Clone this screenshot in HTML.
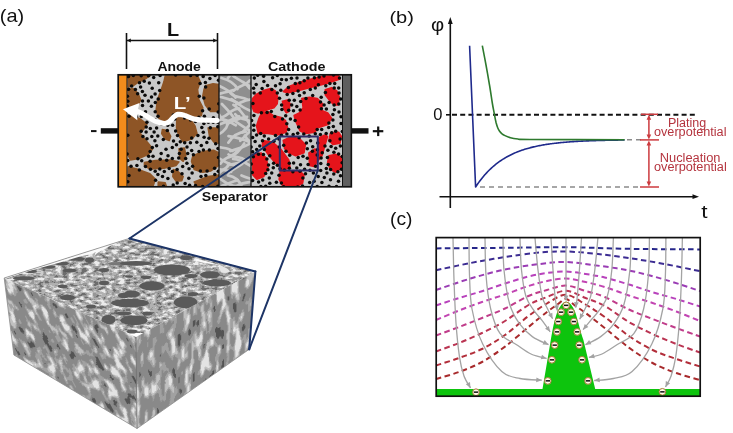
<!DOCTYPE html>
<html><head><meta charset="utf-8"><style>
html,body{margin:0;padding:0;background:#fff;width:733px;height:433px;overflow:hidden;font-family:"Liberation Sans",sans-serif;}
svg{display:block;will-change:transform;filter:blur(0.3px)}
</style></head><body>
<svg width="733" height="433" viewBox="0 0 733 433">
<rect width="733" height="433" fill="#fff"/>
<defs><filter id="texTop" x="0" y="0" width="1" height="1" color-interpolation-filters="sRGB"><feTurbulence type="fractalNoise" baseFrequency="0.16 0.32" numOctaves="2" seed="4"/><feColorMatrix type="matrix" values="1 0 0 0 0  1 0 0 0 0  1 0 0 0 0  0 0 0 0 1"/><feComponentTransfer><feFuncR type="discrete" tableValues="0.431 0.431 0.431 0.431 0.431 0.431 0.431 0.431 0.431 0.431 0.431 0.431 0.431 0.431 0.431 0.431 0.431 0.431 0.431 0.431 0.431 0.431 0.431 0.431 0.431 0.431 0.431 0.431 0.431 0.431 0.431 0.431 0.431 0.596 0.596 0.596 0.596 0.596 0.596 0.596 0.596 0.596 0.596 0.596 0.596 0.698 0.698 0.698 0.698 0.698 0.698 0.698 0.698 0.698 0.804 0.804 0.804 0.804 0.804 0.804 0.804 0.804 0.922 0.922 0.922 0.922 0.922 0.922 0.922 0.922 0.922 0.922 0.922 0.922 0.922 0.922 0.922 0.922 0.922 0.922 0.922 0.922 0.922 0.922 0.922 0.922 0.922 0.922 0.922 0.922 0.922 0.922 0.922 0.922 0.922 0.922"/><feFuncG type="discrete" tableValues="0.431 0.431 0.431 0.431 0.431 0.431 0.431 0.431 0.431 0.431 0.431 0.431 0.431 0.431 0.431 0.431 0.431 0.431 0.431 0.431 0.431 0.431 0.431 0.431 0.431 0.431 0.431 0.431 0.431 0.431 0.431 0.431 0.431 0.596 0.596 0.596 0.596 0.596 0.596 0.596 0.596 0.596 0.596 0.596 0.596 0.698 0.698 0.698 0.698 0.698 0.698 0.698 0.698 0.698 0.804 0.804 0.804 0.804 0.804 0.804 0.804 0.804 0.922 0.922 0.922 0.922 0.922 0.922 0.922 0.922 0.922 0.922 0.922 0.922 0.922 0.922 0.922 0.922 0.922 0.922 0.922 0.922 0.922 0.922 0.922 0.922 0.922 0.922 0.922 0.922 0.922 0.922 0.922 0.922 0.922 0.922"/><feFuncB type="discrete" tableValues="0.431 0.431 0.431 0.431 0.431 0.431 0.431 0.431 0.431 0.431 0.431 0.431 0.431 0.431 0.431 0.431 0.431 0.431 0.431 0.431 0.431 0.431 0.431 0.431 0.431 0.431 0.431 0.431 0.431 0.431 0.431 0.431 0.431 0.596 0.596 0.596 0.596 0.596 0.596 0.596 0.596 0.596 0.596 0.596 0.596 0.698 0.698 0.698 0.698 0.698 0.698 0.698 0.698 0.698 0.804 0.804 0.804 0.804 0.804 0.804 0.804 0.804 0.922 0.922 0.922 0.922 0.922 0.922 0.922 0.922 0.922 0.922 0.922 0.922 0.922 0.922 0.922 0.922 0.922 0.922 0.922 0.922 0.922 0.922 0.922 0.922 0.922 0.922 0.922 0.922 0.922 0.922 0.922 0.922 0.922 0.922"/></feComponentTransfer><feGaussianBlur stdDeviation="0.45"/></filter><filter id="texL" x="0" y="0" width="1" height="1" color-interpolation-filters="sRGB"><feTurbulence type="fractalNoise" baseFrequency="0.17 0.065" numOctaves="2" seed="9"/><feColorMatrix type="matrix" values="1 0 0 0 0  1 0 0 0 0  1 0 0 0 0  0 0 0 0 1"/><feComponentTransfer><feFuncR type="discrete" tableValues="0.333 0.333 0.333 0.333 0.333 0.333 0.333 0.333 0.333 0.333 0.333 0.333 0.333 0.333 0.333 0.333 0.333 0.333 0.333 0.333 0.333 0.333 0.333 0.333 0.333 0.333 0.333 0.333 0.333 0.541 0.541 0.541 0.541 0.541 0.541 0.541 0.541 0.541 0.541 0.541 0.541 0.541 0.541 0.541 0.541 0.541 0.541 0.541 0.541 0.635 0.635 0.635 0.635 0.635 0.635 0.635 0.753 0.753 0.753 0.753 0.753 0.753 0.753 0.894 0.894 0.894 0.894 0.894 0.894 0.894 0.894 0.894 0.894 0.894 0.894 0.894 0.894 0.894 0.894 0.894 0.894 0.894 0.894 0.894 0.894 0.894 0.894 0.894 0.894 0.894 0.894 0.894 0.894 0.894 0.894 0.894"/><feFuncG type="discrete" tableValues="0.333 0.333 0.333 0.333 0.333 0.333 0.333 0.333 0.333 0.333 0.333 0.333 0.333 0.333 0.333 0.333 0.333 0.333 0.333 0.333 0.333 0.333 0.333 0.333 0.333 0.333 0.333 0.333 0.333 0.541 0.541 0.541 0.541 0.541 0.541 0.541 0.541 0.541 0.541 0.541 0.541 0.541 0.541 0.541 0.541 0.541 0.541 0.541 0.541 0.635 0.635 0.635 0.635 0.635 0.635 0.635 0.753 0.753 0.753 0.753 0.753 0.753 0.753 0.894 0.894 0.894 0.894 0.894 0.894 0.894 0.894 0.894 0.894 0.894 0.894 0.894 0.894 0.894 0.894 0.894 0.894 0.894 0.894 0.894 0.894 0.894 0.894 0.894 0.894 0.894 0.894 0.894 0.894 0.894 0.894 0.894"/><feFuncB type="discrete" tableValues="0.333 0.333 0.333 0.333 0.333 0.333 0.333 0.333 0.333 0.333 0.333 0.333 0.333 0.333 0.333 0.333 0.333 0.333 0.333 0.333 0.333 0.333 0.333 0.333 0.333 0.333 0.333 0.333 0.333 0.541 0.541 0.541 0.541 0.541 0.541 0.541 0.541 0.541 0.541 0.541 0.541 0.541 0.541 0.541 0.541 0.541 0.541 0.541 0.541 0.635 0.635 0.635 0.635 0.635 0.635 0.635 0.753 0.753 0.753 0.753 0.753 0.753 0.753 0.894 0.894 0.894 0.894 0.894 0.894 0.894 0.894 0.894 0.894 0.894 0.894 0.894 0.894 0.894 0.894 0.894 0.894 0.894 0.894 0.894 0.894 0.894 0.894 0.894 0.894 0.894 0.894 0.894 0.894 0.894 0.894 0.894"/></feComponentTransfer><feGaussianBlur stdDeviation="0.45"/></filter><filter id="texR" x="0" y="0" width="1" height="1" color-interpolation-filters="sRGB"><feTurbulence type="fractalNoise" baseFrequency="0.14 0.05" numOctaves="2" seed="13"/><feColorMatrix type="matrix" values="1 0 0 0 0  1 0 0 0 0  1 0 0 0 0  0 0 0 0 1"/><feComponentTransfer><feFuncR type="discrete" tableValues="0.333 0.333 0.333 0.333 0.333 0.333 0.333 0.333 0.333 0.333 0.333 0.333 0.333 0.333 0.333 0.333 0.333 0.333 0.333 0.333 0.333 0.333 0.333 0.333 0.333 0.333 0.333 0.333 0.333 0.541 0.541 0.541 0.541 0.541 0.541 0.541 0.541 0.541 0.541 0.541 0.541 0.541 0.541 0.541 0.541 0.541 0.541 0.541 0.541 0.635 0.635 0.635 0.635 0.635 0.635 0.635 0.753 0.753 0.753 0.753 0.753 0.753 0.753 0.894 0.894 0.894 0.894 0.894 0.894 0.894 0.894 0.894 0.894 0.894 0.894 0.894 0.894 0.894 0.894 0.894 0.894 0.894 0.894 0.894 0.894 0.894 0.894 0.894 0.894 0.894 0.894 0.894 0.894 0.894 0.894 0.894"/><feFuncG type="discrete" tableValues="0.333 0.333 0.333 0.333 0.333 0.333 0.333 0.333 0.333 0.333 0.333 0.333 0.333 0.333 0.333 0.333 0.333 0.333 0.333 0.333 0.333 0.333 0.333 0.333 0.333 0.333 0.333 0.333 0.333 0.541 0.541 0.541 0.541 0.541 0.541 0.541 0.541 0.541 0.541 0.541 0.541 0.541 0.541 0.541 0.541 0.541 0.541 0.541 0.541 0.635 0.635 0.635 0.635 0.635 0.635 0.635 0.753 0.753 0.753 0.753 0.753 0.753 0.753 0.894 0.894 0.894 0.894 0.894 0.894 0.894 0.894 0.894 0.894 0.894 0.894 0.894 0.894 0.894 0.894 0.894 0.894 0.894 0.894 0.894 0.894 0.894 0.894 0.894 0.894 0.894 0.894 0.894 0.894 0.894 0.894 0.894"/><feFuncB type="discrete" tableValues="0.333 0.333 0.333 0.333 0.333 0.333 0.333 0.333 0.333 0.333 0.333 0.333 0.333 0.333 0.333 0.333 0.333 0.333 0.333 0.333 0.333 0.333 0.333 0.333 0.333 0.333 0.333 0.333 0.333 0.541 0.541 0.541 0.541 0.541 0.541 0.541 0.541 0.541 0.541 0.541 0.541 0.541 0.541 0.541 0.541 0.541 0.541 0.541 0.541 0.635 0.635 0.635 0.635 0.635 0.635 0.635 0.753 0.753 0.753 0.753 0.753 0.753 0.753 0.894 0.894 0.894 0.894 0.894 0.894 0.894 0.894 0.894 0.894 0.894 0.894 0.894 0.894 0.894 0.894 0.894 0.894 0.894 0.894 0.894 0.894 0.894 0.894 0.894 0.894 0.894 0.894 0.894 0.894 0.894 0.894 0.894"/></feComponentTransfer><feGaussianBlur stdDeviation="0.45"/></filter><clipPath id="cTop"><polygon points="129.0,238.5 4.2,278.0 136.0,337.0 255.4,271.5"/></clipPath><clipPath id="cL"><polygon points="4.2,278.0 136.0,337.0 137.0,428.5 13.9,355.0"/></clipPath><clipPath id="cR"><polygon points="136.0,337.0 255.4,271.5 249.2,349.3 137.0,428.5"/></clipPath></defs>
<g clip-path="url(#cTop)"><rect x="0" y="236" width="258" height="97" filter="url(#texTop)"/></g>
<g clip-path="url(#cL)"><g transform="translate(70 352) rotate(-28)"><rect x="-110" y="-110" width="220" height="220" filter="url(#texL)"/></g></g>
<g clip-path="url(#cR)"><g transform="translate(134 268) skewY(-27)"><rect x="0" y="60" width="124" height="165" filter="url(#texR)"/></g></g>
<g fill="#777" clip-path="url(#cTop)"><ellipse cx="119" cy="263.8" rx="11" ry="1.8"/></g>
<g fill="#5a5a5a" clip-path="url(#cTop)"><ellipse cx="23.7" cy="278.3" rx="11" ry="2.1"/><ellipse cx="30.6" cy="271.3" rx="6.3" ry="1.8"/><ellipse cx="46.8" cy="266.8" rx="8.7" ry="1.9"/><ellipse cx="62" cy="263.5" rx="7" ry="2"/><ellipse cx="62.5" cy="286.2" rx="5" ry="1.8"/><ellipse cx="75" cy="258.7" rx="10" ry="2.1"/><ellipse cx="89.5" cy="260" rx="4.5" ry="2.8"/><ellipse cx="69.7" cy="270.5" rx="7" ry="2"/><ellipse cx="124" cy="295.5" rx="6" ry="2.7"/><ellipse cx="136" cy="263.4" rx="16" ry="2.4"/><ellipse cx="172" cy="270" rx="18" ry="5.5"/><ellipse cx="186" cy="257.8" rx="6" ry="2.5"/><ellipse cx="152" cy="286" rx="12.5" ry="4.5"/><ellipse cx="146" cy="277.3" rx="5.5" ry="1.8"/><ellipse cx="210" cy="274.7" rx="10" ry="3.5"/><ellipse cx="217" cy="283" rx="14" ry="3.5"/><ellipse cx="191" cy="276" rx="6.5" ry="2"/><ellipse cx="67.6" cy="297.5" rx="7.6" ry="2.8"/><ellipse cx="91" cy="306.5" rx="5" ry="2"/><ellipse cx="130" cy="303" rx="19" ry="4.2"/><ellipse cx="132" cy="294" rx="8" ry="3.5"/><ellipse cx="108.5" cy="319.7" rx="7" ry="4.8"/><ellipse cx="134" cy="320.4" rx="13.5" ry="4.8"/><ellipse cx="123.8" cy="313.4" rx="8" ry="2"/><ellipse cx="132" cy="331.5" rx="5.5" ry="2"/><ellipse cx="185.6" cy="302.3" rx="11.8" ry="6"/><ellipse cx="147" cy="313.4" rx="4.8" ry="2"/><ellipse cx="193" cy="294" rx="5.5" ry="2"/><ellipse cx="104" cy="270" rx="5" ry="2"/><ellipse cx="104" cy="283" rx="5" ry="2.2"/><ellipse cx="129" cy="276.5" rx="4" ry="1.3"/></g>
<g fill="#fafafa" clip-path="url(#cTop)"><path d="M94 256.5 C97 253 100 251 106 248.5 L108 247 L96 251 Z"/><path d="M220 266.5 C224 266 228 268.5 230 271.5 C227 273 223 273.5 221 272 C219.5 270 219.5 268 220 266.5 Z" fill="#e6e6e6"/><path d="M5 277.6 L129.5 236.8 L129.5 238.6 L118 242.5 L110 246 L104 249 L96 252.3 L89 254.4 L80 256.6 L70 259.6 L60 262.4 L50 265.2 L40 268 L30 270.8 L20 274 L10 277.2 L5 278.8 Z"/><path d="M195 258.2 L222 265.5 C214 265 205 263 196 261 Z"/></g>
<g stroke="#8a8a8a" stroke-width="0.8" fill="none"><polyline points="255.4,271.5 129.0,238.5 4.2,278.0 13.9,355.0 137.0,428.5 249.2,349.3"/><line x1="136" y1="337" x2="137" y2="428.5" stroke="#666"/></g>
<g stroke="#1d3466" stroke-width="2" fill="none" stroke-linecap="round"><line x1="129.5" y1="238.5" x2="255.4" y2="271.5"/><line x1="255.4" y1="271.5" x2="249.2" y2="349.3"/></g>
<text x="-0.24" y="22.20" font-size="18.1" font-family="Liberation Sans, sans-serif" fill="#111" textLength="24.37" lengthAdjust="spacingAndGlyphs">(a)</text>
<text x="389.46" y="22.80" font-size="16" font-family="Liberation Sans, sans-serif" fill="#111" textLength="24.48" lengthAdjust="spacingAndGlyphs">(b)</text>
<text x="390.00" y="224.50" font-size="18.4" font-family="Liberation Sans, sans-serif" fill="#111" textLength="22.49" lengthAdjust="spacingAndGlyphs">(c)</text>
<g stroke="#111" stroke-width="1.6" fill="none"><line x1="126.5" y1="33" x2="126.5" y2="69"/><line x1="217.5" y1="33" x2="217.5" y2="69"/><line x1="127" y1="40.5" x2="217" y2="40.5"/></g>
<path d="M127 40.5 l3.8 -2 v4 z M217 40.5 l-3.8 -2 v4 z" fill="#111"/>
<text x="166.97" y="36.20" font-size="18" font-weight="bold" font-family="Liberation Sans, sans-serif" fill="#111" textLength="12.14" lengthAdjust="spacingAndGlyphs">L</text>
<text x="157.45" y="70.50" font-size="13.5" font-weight="bold" font-family="Liberation Sans, sans-serif" fill="#111" textLength="43.42" lengthAdjust="spacingAndGlyphs">Anode</text>
<text x="268.01" y="70.80" font-size="13.7" font-weight="bold" font-family="Liberation Sans, sans-serif" fill="#111" textLength="57.38" lengthAdjust="spacingAndGlyphs">Cathode</text>
<text x="201.79" y="201.40" font-size="13" font-weight="bold" font-family="Liberation Sans, sans-serif" fill="#111" textLength="65.92" lengthAdjust="spacingAndGlyphs">Separator</text>
<rect x="100.8" y="128.2" width="17.6" height="5.4" fill="#111"/>
<rect x="91" y="130.1" width="5.5" height="2" fill="#111"/>
<rect x="351" y="128.2" width="17.5" height="5.4" fill="#111"/>
<rect x="372.8" y="130.1" width="10.5" height="2.2" fill="#111"/><rect x="377.1" y="126.5" width="2.2" height="9.6" fill="#111"/>
<defs><clipPath id="cAn"><rect x="127" y="75" width="92" height="112"/></clipPath><clipPath id="cSep"><rect x="219" y="75" width="32" height="112"/></clipPath><clipPath id="cCa"><rect x="251" y="75" width="91.5" height="112"/></clipPath></defs>
<g clip-path="url(#cAn)">
<rect x="127" y="75" width="92" height="112" fill="#c8c8c8"/>
<g fill="#8e5526"><polygon points="128.2,75.3 150.5,75.3 146.0,78.5 138.0,82.5 133.0,86.0 128.2,87.0" stroke="#8e5526" stroke-width="1.5" stroke-linejoin="round"/><polygon points="128.2,89.6 132.8,88.3 138.0,93.4 140.6,99.9 138.0,105.1 128.2,106.4" stroke="#8e5526" stroke-width="1.5" stroke-linejoin="round"/><polygon points="165.2,75.9 197.6,75.9 200.2,81.8 197.6,89.6 198.9,99.9 202.8,107.7 201.5,115.5 192.4,116.8 184.6,114.2 176.8,112.9 170.4,118.1 163.9,120.7 158.7,118.1 156.1,110.3 157.4,99.9 161.3,89.6 163.9,81.8" stroke="#8e5526" stroke-width="1.5" stroke-linejoin="round"/><polygon points="205.4,85.7 213.1,83.7 219.0,84.4 219.0,111.6 210.5,111.6 205.4,105.1 202.8,96.0 204.0,89.6" stroke="#8e5526" stroke-width="1.5" stroke-linejoin="round"/><polygon points="176.8,118.1 189.8,118.1 195.0,125.9 197.0,133.5 191.5,139.1 183.2,141.9 179.0,136.3 176.5,128.0" stroke="#8e5526" stroke-width="1.5" stroke-linejoin="round"/><polygon points="128.2,114.8 139.3,118.4 147.0,124.0 143.0,130.0 140.0,133.0 147.2,141.9 152.7,148.8 148.5,154.3 138.8,158.5 130.5,159.9 128.2,155.7" stroke="#8e5526" stroke-width="1.5" stroke-linejoin="round"/><polygon points="162.4,129.4 167.9,130.8 170.7,136.3 169.3,140.5 165.2,139.1 161.7,133.5" stroke="#8e5526" stroke-width="1.5" stroke-linejoin="round"/><polygon points="208.1,128.0 219.0,128.0 219.0,143.2 213.6,141.9 209.5,136.3" stroke="#8e5526" stroke-width="1.5" stroke-linejoin="round"/><polygon points="179.0,148.8 184.5,148.1 185.9,155.7 183.2,161.3 179.7,158.5" stroke="#8e5526" stroke-width="1.5" stroke-linejoin="round"/><polygon points="144.4,162.6 155.5,160.6 170.7,159.9 179.0,161.9 176.2,165.4 163.8,168.2 149.9,168.9 144.4,166.1" stroke="#8e5526" stroke-width="1.5" stroke-linejoin="round"/><polygon points="192.9,155.7 202.6,151.6 213.6,150.2 219.0,152.9 219.0,165.4 210.9,171.0 202.6,172.3 194.2,169.6 191.5,161.3" stroke="#8e5526" stroke-width="1.5" stroke-linejoin="round"/><polygon points="128.2,166.8 138.8,169.6 149.9,173.7 155.5,179.3 152.7,187.0 128.2,187.0" stroke="#8e5526" stroke-width="1.5" stroke-linejoin="round"/><polygon points="173.5,169.6 177.6,171.0 183.2,176.5 181.8,180.7 176.2,181.3 172.8,176.5" stroke="#8e5526" stroke-width="1.5" stroke-linejoin="round"/><polygon points="194.2,182.0 208.1,176.5 219.0,175.1 219.0,187.0 197.0,187.0" stroke="#8e5526" stroke-width="1.5" stroke-linejoin="round"/><polygon points="158.2,182.0 165.2,182.7 166.5,187.0 158.2,187.0" stroke="#8e5526" stroke-width="1.5" stroke-linejoin="round"/></g>
<g fill="#0a0a0a"><circle cx="139.4" cy="169.9" r="1.75"/><circle cx="172.6" cy="125.3" r="1.75"/><circle cx="186.9" cy="163.3" r="1.75"/><circle cx="203.9" cy="123.5" r="1.75"/><circle cx="197.1" cy="75.2" r="1.75"/><circle cx="168.0" cy="155.8" r="1.75"/><circle cx="209.9" cy="78.4" r="1.75"/><circle cx="213.4" cy="117.7" r="1.75"/><circle cx="146.9" cy="122.3" r="1.75"/><circle cx="167.3" cy="130.5" r="1.75"/><circle cx="148.4" cy="100.9" r="1.75"/><circle cx="153.7" cy="77.4" r="1.75"/><circle cx="204.1" cy="137.3" r="1.75"/><circle cx="218.3" cy="171.3" r="1.75"/><circle cx="138.1" cy="112.3" r="1.75"/><circle cx="193.4" cy="154.7" r="1.75"/><circle cx="213.2" cy="122.3" r="1.75"/><circle cx="203.4" cy="150.1" r="1.75"/><circle cx="154.9" cy="140.8" r="1.75"/><circle cx="173.5" cy="141.0" r="1.75"/><circle cx="142.9" cy="136.5" r="1.75"/><circle cx="191.7" cy="150.5" r="1.75"/><circle cx="161.5" cy="124.2" r="1.75"/><circle cx="174.9" cy="119.0" r="1.75"/><circle cx="173.2" cy="185.0" r="1.75"/><circle cx="197.9" cy="135.4" r="1.75"/><circle cx="151.8" cy="136.4" r="1.75"/><circle cx="215.1" cy="75.6" r="1.75"/><circle cx="176.5" cy="144.8" r="1.75"/><circle cx="150.5" cy="169.3" r="1.75"/><circle cx="128.5" cy="76.6" r="1.75"/><circle cx="158.7" cy="82.8" r="1.75"/><circle cx="142.5" cy="105.6" r="1.75"/><circle cx="156.6" cy="128.1" r="1.75"/><circle cx="182.7" cy="166.5" r="1.75"/><circle cx="163.3" cy="139.5" r="1.75"/><circle cx="156.6" cy="145.7" r="1.75"/><circle cx="132.4" cy="108.4" r="1.75"/><circle cx="155.2" cy="171.2" r="1.75"/><circle cx="155.6" cy="180.2" r="1.75"/><circle cx="195.4" cy="121.6" r="1.75"/><circle cx="145.5" cy="111.7" r="1.75"/><circle cx="158.2" cy="98.9" r="1.75"/><circle cx="189.0" cy="168.8" r="1.75"/><circle cx="148.6" cy="156.3" r="1.75"/><circle cx="196.8" cy="142.2" r="1.75"/><circle cx="204.4" cy="116.2" r="1.75"/><circle cx="206.8" cy="142.6" r="1.75"/><circle cx="214.8" cy="174.4" r="1.75"/><circle cx="198.9" cy="117.3" r="1.75"/><circle cx="209.0" cy="138.2" r="1.75"/><circle cx="203.2" cy="76.4" r="1.75"/><circle cx="217.9" cy="122.2" r="1.75"/><circle cx="137.6" cy="93.7" r="1.75"/><circle cx="150.3" cy="128.4" r="1.75"/><circle cx="155.3" cy="102.6" r="1.75"/><circle cx="187.0" cy="147.1" r="1.75"/><circle cx="155.2" cy="111.7" r="1.75"/><circle cx="209.2" cy="108.9" r="1.75"/><circle cx="157.8" cy="136.0" r="1.75"/><circle cx="180.3" cy="141.7" r="1.75"/><circle cx="149.4" cy="83.1" r="1.75"/><circle cx="172.4" cy="171.6" r="1.75"/><circle cx="141.2" cy="131.2" r="1.75"/><circle cx="200.1" cy="83.6" r="1.75"/><circle cx="202.6" cy="110.8" r="1.75"/><circle cx="201.0" cy="176.6" r="1.75"/><circle cx="177.5" cy="135.6" r="1.75"/><circle cx="159.7" cy="90.5" r="1.75"/><circle cx="148.5" cy="75.8" r="1.75"/><circle cx="175.6" cy="131.1" r="1.75"/><circle cx="152.3" cy="147.4" r="1.75"/><circle cx="141.7" cy="160.8" r="1.75"/><circle cx="161.2" cy="153.5" r="1.75"/><circle cx="205.8" cy="175.4" r="1.75"/><circle cx="147.0" cy="138.8" r="1.75"/><circle cx="201.3" cy="145.4" r="1.75"/><circle cx="187.7" cy="153.4" r="1.75"/><circle cx="167.9" cy="178.5" r="1.75"/><circle cx="127.4" cy="96.3" r="1.75"/><circle cx="184.7" cy="142.8" r="1.75"/><circle cx="203.9" cy="98.1" r="1.75"/><circle cx="150.1" cy="151.6" r="1.75"/><circle cx="136.9" cy="165.4" r="1.75"/><circle cx="137.9" cy="158.7" r="1.75"/><circle cx="177.2" cy="183.1" r="1.75"/><circle cx="173.3" cy="115.0" r="1.75"/><circle cx="175.6" cy="75.1" r="1.75"/><circle cx="167.7" cy="125.3" r="1.75"/><circle cx="155.0" cy="119.7" r="1.75"/><circle cx="199.0" cy="151.5" r="1.75"/><circle cx="172.3" cy="147.5" r="1.75"/><circle cx="127.4" cy="106.1" r="1.75"/><circle cx="182.0" cy="173.7" r="1.75"/><circle cx="203.3" cy="132.2" r="1.75"/><circle cx="217.8" cy="126.7" r="1.75"/><circle cx="195.5" cy="185.6" r="1.75"/><circle cx="155.1" cy="94.1" r="1.75"/><circle cx="160.1" cy="75.4" r="1.75"/><circle cx="164.3" cy="171.5" r="1.75"/><circle cx="172.3" cy="158.5" r="1.75"/><circle cx="192.1" cy="172.9" r="1.75"/><circle cx="190.5" cy="120.0" r="1.75"/><circle cx="190.4" cy="142.8" r="1.75"/><circle cx="192.6" cy="166.3" r="1.75"/><circle cx="166.7" cy="160.3" r="1.75"/><circle cx="199.3" cy="96.3" r="1.75"/><circle cx="160.2" cy="159.2" r="1.75"/><circle cx="144.2" cy="81.2" r="1.75"/><circle cx="215.7" cy="143.7" r="1.75"/><circle cx="142.5" cy="101.0" r="1.75"/><circle cx="218.5" cy="80.2" r="1.75"/><circle cx="200.4" cy="171.0" r="1.75"/><circle cx="152.2" cy="88.2" r="1.75"/><circle cx="185.7" cy="158.4" r="1.75"/><circle cx="185.1" cy="183.6" r="1.75"/><circle cx="181.3" cy="114.2" r="1.75"/><circle cx="166.0" cy="149.2" r="1.75"/><circle cx="201.8" cy="127.5" r="1.75"/><circle cx="141.4" cy="116.5" r="1.75"/><circle cx="131.0" cy="166.3" r="1.75"/><circle cx="142.4" cy="91.6" r="1.75"/><circle cx="131.6" cy="86.1" r="1.75"/><circle cx="129.0" cy="116.2" r="1.75"/><circle cx="218.8" cy="103.7" r="1.75"/><circle cx="190.6" cy="75.6" r="1.75"/><circle cx="218.5" cy="157.4" r="1.75"/><circle cx="209.4" cy="150.0" r="1.75"/><circle cx="135.4" cy="89.5" r="1.75"/><circle cx="151.4" cy="106.2" r="1.75"/><circle cx="154.1" cy="131.9" r="1.75"/><circle cx="205.6" cy="86.9" r="1.75"/><circle cx="162.5" cy="176.4" r="1.75"/><circle cx="218.0" cy="148.6" r="1.75"/><circle cx="191.7" cy="138.1" r="1.75"/><circle cx="208.4" cy="122.3" r="1.75"/><circle cx="189.6" cy="185.3" r="1.75"/><circle cx="150.1" cy="161.2" r="1.75"/><circle cx="170.5" cy="120.2" r="1.75"/><circle cx="136.5" cy="116.8" r="1.75"/><circle cx="177.1" cy="169.5" r="1.75"/><circle cx="157.9" cy="174.5" r="1.75"/><circle cx="127.8" cy="181.7" r="1.75"/><circle cx="129.0" cy="175.5" r="1.75"/><circle cx="145.5" cy="166.5" r="1.75"/><circle cx="159.8" cy="168.9" r="1.75"/><circle cx="146.2" cy="126.9" r="1.75"/><circle cx="146.1" cy="131.9" r="1.75"/><circle cx="188.8" cy="178.2" r="1.75"/><circle cx="169.2" cy="168.4" r="1.75"/><circle cx="163.5" cy="186.2" r="1.75"/><circle cx="210.3" cy="127.7" r="1.75"/><circle cx="158.0" cy="116.3" r="1.75"/><circle cx="140.6" cy="87.1" r="1.75"/><circle cx="202.6" cy="186.5" r="1.75"/><circle cx="153.0" cy="156.3" r="1.75"/><circle cx="181.1" cy="149.3" r="1.75"/><circle cx="151.5" cy="97.0" r="1.75"/><circle cx="127.8" cy="160.6" r="1.75"/><circle cx="145.0" cy="95.3" r="1.75"/><circle cx="214.6" cy="168.2" r="1.75"/><circle cx="184.6" cy="118.0" r="1.75"/><circle cx="127.1" cy="153.9" r="1.75"/><circle cx="133.3" cy="75.4" r="1.75"/><circle cx="205.4" cy="82.4" r="1.75"/><circle cx="127.8" cy="135.3" r="1.75"/><circle cx="128.6" cy="89.3" r="1.75"/><circle cx="207.1" cy="171.1" r="1.75"/><circle cx="139.5" cy="82.7" r="1.75"/><circle cx="179.4" cy="153.4" r="1.75"/><circle cx="178.7" cy="158.1" r="1.75"/><circle cx="127.8" cy="101.2" r="1.75"/><circle cx="217.9" cy="186.3" r="1.75"/><circle cx="218.2" cy="112.0" r="1.75"/><circle cx="141.2" cy="75.7" r="1.75"/></g>
<text x="173.71" y="108.70" font-size="17" font-weight="bold" font-family="Liberation Sans, sans-serif" fill="#fff" textLength="17.09" lengthAdjust="spacingAndGlyphs">L’</text>
</g>
<g clip-path="url(#cSep)"><rect x="219" y="75" width="32" height="112" fill="#8f8f8f"/><g fill="none" stroke="#c9c9c9" stroke-width="2.7" stroke-linecap="round"><path d="M217.3 72.6 C223.7 71.4 227.6 66.2 232.7 62.9"/><path d="M230.7 69.3 C239.6 68.7 246.5 75.5 255.2 75.8"/><path d="M227.9 78.0 C233.5 72.5 234.7 63.5 242.5 59.7"/><path d="M229.6 72.7 C235.1 79.4 244.9 80.6 249.5 88.4"/><path d="M221.5 78.0 C228.3 79.7 234.3 82.4 237.5 89.1"/><path d="M243.1 82.0 C250.3 87.1 258.2 90.4 266.9 91.7"/><path d="M217.8 85.2 C224.5 88.3 231.2 91.1 235.5 97.6"/><path d="M233.7 90.7 C238.0 85.7 245.9 86.0 249.8 80.3"/><path d="M217.2 94.2 C222.7 93.0 228.2 92.0 233.4 90.1"/><path d="M230.5 93.1 C234.8 98.4 242.0 96.2 247.0 99.5"/><path d="M216.3 95.8 C224.3 98.2 233.0 99.1 239.9 104.6"/><path d="M231.5 99.1 C238.7 103.9 245.0 110.2 254.1 111.8"/><path d="M221.9 104.0 C226.3 108.4 230.5 112.9 233.9 118.0"/><path d="M236.0 104.6 C241.8 102.3 247.2 98.6 253.9 99.4"/><path d="M211.5 103.8 C218.0 108.7 218.5 118.3 226.3 122.1"/><path d="M233.5 104.8 C241.0 109.3 245.1 116.8 249.6 123.9"/><path d="M220.1 117.9 C227.4 116.8 231.2 108.2 239.3 108.7"/><path d="M235.3 114.2 C239.7 120.2 247.3 118.9 252.9 122.1"/><path d="M219.8 119.7 C226.4 118.0 230.6 123.0 235.8 125.3"/><path d="M226.9 123.8 C233.6 121.4 239.7 117.0 247.1 116.8"/><path d="M217.3 125.1 C224.9 122.9 231.8 119.3 239.1 116.3"/><path d="M235.0 121.1 C241.9 125.5 248.0 131.5 256.6 133.0"/><path d="M214.2 136.5 C219.9 133.7 225.9 131.2 227.8 124.1"/><path d="M242.4 132.3 C246.2 128.0 251.2 124.9 253.4 119.4"/><path d="M228.5 136.2 C236.6 137.4 244.4 139.5 251.7 143.2"/><path d="M244.9 135.6 C248.3 143.2 256.5 144.9 262.3 149.5"/><path d="M228.3 142.7 C232.4 136.1 238.2 132.1 246.2 131.6"/><path d="M240.3 140.8 C246.2 135.3 251.1 128.7 258.6 125.1"/><path d="M215.3 146.1 C220.7 148.5 227.3 147.1 232.3 150.9"/><path d="M230.4 151.0 C238.4 148.5 246.8 146.7 253.5 141.0"/><path d="M228.5 154.5 C233.5 158.2 240.9 155.6 245.4 160.7"/><path d="M228.9 157.2 C236.4 155.3 240.2 149.2 244.2 143.4"/><path d="M210.9 154.8 C219.5 156.5 225.3 164.2 234.2 165.2"/><path d="M233.1 158.9 C241.2 159.4 247.5 164.2 254.2 168.0"/><path d="M220.6 163.7 C224.4 156.4 234.7 157.1 238.2 149.3"/><path d="M227.9 165.0 C234.9 164.0 241.9 162.9 248.2 159.5"/><path d="M212.9 166.0 C218.0 170.9 225.3 168.9 231.1 171.8"/><path d="M228.8 172.8 C232.9 169.1 238.1 167.0 242.5 163.6"/><path d="M218.2 175.5 C219.3 169.3 227.8 169.8 229.1 163.6"/><path d="M241.5 175.4 C247.9 178.0 254.6 180.1 261.2 182.5"/><path d="M219.2 178.1 C224.7 181.7 229.7 186.3 237.0 186.2"/><path d="M227.9 175.3 C234.7 176.4 239.4 180.0 241.7 186.7"/><path d="M221.9 185.9 C227.4 184.3 232.3 181.3 237.9 180.1"/><path d="M233.7 188.2 C240.4 182.3 248.8 182.3 256.9 181.0"/></g></g>
<g clip-path="url(#cCa)">
<rect x="251" y="75" width="91.5" height="112" fill="#c8c8c8"/>
<g fill="#e5141b"><polygon points="283.2,91.5 288.9,86.5 304.4,80.8 322.6,76.2 338.5,75.5 340.0,79.0 328.5,83.0 312.5,87.0 296.7,91.0 287.6,93.0" stroke="#e5141b" stroke-width="1.5" stroke-linejoin="round"/><polygon points="252.6,98.6 256.5,94.1 264.3,90.2 270.7,88.5 275.3,90.9 277.9,97.3 277.2,103.8 274.0,107.7 268.1,109.6 263.0,111.6 257.8,112.9 253.9,111.6 251.9,106.4" stroke="#e5141b" stroke-width="1.5" stroke-linejoin="round"/><polygon points="261.7,112.9 268.1,111.6 273.3,115.5 281.1,117.4 285.6,120.7 287.6,128.0 286.0,132.2 277.7,134.9 268.0,133.5 258.3,133.5 256.5,125.9 259.1,118.1" stroke="#e5141b" stroke-width="1.5" stroke-linejoin="round"/><polygon points="282.4,101.2 287.6,99.9 290.2,103.8 288.9,111.6 286.3,112.9 283.7,109.0" stroke="#e5141b" stroke-width="1.5" stroke-linejoin="round"/><polygon points="301.8,98.6 309.6,97.3 317.4,98.6 322.6,103.8 321.3,110.3 327.8,112.9 331.6,118.1 327.8,124.6 317.4,128.0 315.1,132.2 305.4,133.5 299.9,130.8 295.4,120.7 294.1,115.5 299.2,112.9 303.1,107.7" stroke="#e5141b" stroke-width="1.5" stroke-linejoin="round"/><polygon points="325.2,89.6 331.6,87.6 336.8,90.9 339.4,97.3 338.1,105.1 334.2,105.1 329.1,99.9 325.2,94.7" stroke="#e5141b" stroke-width="1.5" stroke-linejoin="round"/><polygon points="283.2,140.5 291.5,136.3 299.9,139.1 305.4,144.6 304.0,152.9 295.7,155.7 288.8,152.9 284.6,148.8" stroke="#e5141b" stroke-width="1.5" stroke-linejoin="round"/><polygon points="262.5,140.5 272.2,141.9 280.5,148.8 288.8,159.9 290.2,168.2 283.2,169.6 274.9,162.6 268.0,154.3 262.5,146.0" stroke="#e5141b" stroke-width="1.5" stroke-linejoin="round"/><polygon points="252.8,154.3 261.1,152.9 266.6,158.5 268.0,168.2 263.8,176.5 256.9,179.3 252.8,175.1" stroke="#e5141b" stroke-width="1.5" stroke-linejoin="round"/><polygon points="280.5,169.6 288.8,171.0 299.9,171.0 304.0,175.1 302.6,183.4 295.7,187.0 283.2,187.0 279.1,179.3" stroke="#e5141b" stroke-width="1.5" stroke-linejoin="round"/><polygon points="319.2,137.7 324.8,134.9 327.6,136.3 322.0,155.7 316.5,162.6 315.1,159.9 317.9,148.8" stroke="#e5141b" stroke-width="1.5" stroke-linejoin="round"/><polygon points="330.3,133.5 338.6,132.2 341.4,136.3 340.0,143.2 333.1,144.6 328.9,140.5" stroke="#e5141b" stroke-width="1.5" stroke-linejoin="round"/><polygon points="328.9,155.7 335.9,154.3 341.4,157.1 341.4,168.2 335.9,172.3 330.3,169.6 327.6,162.6" stroke="#e5141b" stroke-width="1.5" stroke-linejoin="round"/><polygon points="308.9,152.9 315.1,148.8 317.2,159.9 315.1,166.8 309.5,165.4" stroke="#e5141b" stroke-width="1.5" stroke-linejoin="round"/></g>
<g fill="#0a0a0a"><circle cx="338.5" cy="181.2" r="1.75"/><circle cx="256.2" cy="84.5" r="1.75"/><circle cx="327.4" cy="157.4" r="1.75"/><circle cx="306.4" cy="143.0" r="1.75"/><circle cx="304.2" cy="92.7" r="1.75"/><circle cx="290.4" cy="119.1" r="1.75"/><circle cx="317.2" cy="186.4" r="1.75"/><circle cx="291.7" cy="105.0" r="1.75"/><circle cx="254.3" cy="78.1" r="1.75"/><circle cx="293.5" cy="110.7" r="1.75"/><circle cx="299.1" cy="137.8" r="1.75"/><circle cx="272.6" cy="77.7" r="1.75"/><circle cx="280.8" cy="90.3" r="1.75"/><circle cx="297.7" cy="186.9" r="1.75"/><circle cx="312.7" cy="95.4" r="1.75"/><circle cx="318.2" cy="176.5" r="1.75"/><circle cx="320.8" cy="163.5" r="1.75"/><circle cx="339.0" cy="93.1" r="1.75"/><circle cx="293.2" cy="134.4" r="1.75"/><circle cx="296.8" cy="168.1" r="1.75"/><circle cx="333.3" cy="126.6" r="1.75"/><circle cx="302.9" cy="178.1" r="1.75"/><circle cx="317.2" cy="129.5" r="1.75"/><circle cx="271.3" cy="111.4" r="1.75"/><circle cx="334.1" cy="105.0" r="1.75"/><circle cx="334.4" cy="109.7" r="1.75"/><circle cx="338.6" cy="154.1" r="1.75"/><circle cx="310.6" cy="140.8" r="1.75"/><circle cx="279.5" cy="98.3" r="1.75"/><circle cx="271.7" cy="173.1" r="1.75"/><circle cx="260.7" cy="133.5" r="1.75"/><circle cx="329.1" cy="102.4" r="1.75"/><circle cx="289.7" cy="155.3" r="1.75"/><circle cx="253.9" cy="115.6" r="1.75"/><circle cx="258.6" cy="181.9" r="1.75"/><circle cx="253.3" cy="156.7" r="1.75"/><circle cx="252.9" cy="103.6" r="1.75"/><circle cx="325.4" cy="92.6" r="1.75"/><circle cx="286.3" cy="79.8" r="1.75"/><circle cx="307.3" cy="158.2" r="1.75"/><circle cx="261.4" cy="112.8" r="1.75"/><circle cx="253.8" cy="125.2" r="1.75"/><circle cx="321.1" cy="157.9" r="1.75"/><circle cx="294.3" cy="100.3" r="1.75"/><circle cx="298.1" cy="91.1" r="1.75"/><circle cx="338.8" cy="104.0" r="1.75"/><circle cx="252.7" cy="137.5" r="1.75"/><circle cx="263.9" cy="81.4" r="1.75"/><circle cx="254.1" cy="93.1" r="1.75"/><circle cx="259.8" cy="146.1" r="1.75"/><circle cx="336.5" cy="186.4" r="1.75"/><circle cx="273.9" cy="141.2" r="1.75"/><circle cx="308.1" cy="164.6" r="1.75"/><circle cx="288.4" cy="87.5" r="1.75"/><circle cx="298.6" cy="127.0" r="1.75"/><circle cx="279.3" cy="146.9" r="1.75"/><circle cx="304.2" cy="80.7" r="1.75"/><circle cx="267.6" cy="85.5" r="1.75"/><circle cx="341.0" cy="116.7" r="1.75"/><circle cx="252.7" cy="151.8" r="1.75"/><circle cx="327.9" cy="150.3" r="1.75"/><circle cx="288.6" cy="129.4" r="1.75"/><circle cx="268.6" cy="139.0" r="1.75"/><circle cx="262.1" cy="88.6" r="1.75"/><circle cx="309.7" cy="182.5" r="1.75"/><circle cx="314.4" cy="77.8" r="1.75"/><circle cx="324.1" cy="105.1" r="1.75"/><circle cx="325.8" cy="85.7" r="1.75"/><circle cx="283.6" cy="186.7" r="1.75"/><circle cx="310.3" cy="89.4" r="1.75"/><circle cx="312.4" cy="151.3" r="1.75"/><circle cx="342.1" cy="162.7" r="1.75"/><circle cx="291.4" cy="78.3" r="1.75"/><circle cx="305.5" cy="173.8" r="1.75"/><circle cx="295.1" cy="120.4" r="1.75"/><circle cx="339.0" cy="112.0" r="1.75"/><circle cx="320.7" cy="170.4" r="1.75"/><circle cx="340.4" cy="146.1" r="1.75"/><circle cx="252.6" cy="180.6" r="1.75"/><circle cx="317.7" cy="142.9" r="1.75"/><circle cx="333.8" cy="174.1" r="1.75"/><circle cx="321.2" cy="97.3" r="1.75"/><circle cx="268.5" cy="165.1" r="1.75"/><circle cx="269.8" cy="183.3" r="1.75"/><circle cx="257.7" cy="75.3" r="1.75"/><circle cx="281.6" cy="104.9" r="1.75"/><circle cx="297.0" cy="78.1" r="1.75"/><circle cx="266.9" cy="159.0" r="1.75"/><circle cx="334.7" cy="83.6" r="1.75"/><circle cx="326.4" cy="109.1" r="1.75"/><circle cx="276.4" cy="182.3" r="1.75"/><circle cx="285.7" cy="115.8" r="1.75"/><circle cx="280.1" cy="83.7" r="1.75"/><circle cx="292.9" cy="93.6" r="1.75"/><circle cx="325.0" cy="145.9" r="1.75"/><circle cx="335.7" cy="131.3" r="1.75"/><circle cx="314.1" cy="181.3" r="1.75"/><circle cx="330.5" cy="179.8" r="1.75"/><circle cx="287.2" cy="94.6" r="1.75"/><circle cx="300.7" cy="101.5" r="1.75"/><circle cx="328.9" cy="123.1" r="1.75"/><circle cx="280.0" cy="168.8" r="1.75"/><circle cx="341.5" cy="169.2" r="1.75"/><circle cx="260.9" cy="186.5" r="1.75"/><circle cx="262.7" cy="180.0" r="1.75"/><circle cx="324.0" cy="76.0" r="1.75"/><circle cx="269.3" cy="177.9" r="1.75"/><circle cx="326.2" cy="133.6" r="1.75"/><circle cx="313.4" cy="173.1" r="1.75"/><circle cx="326.3" cy="168.6" r="1.75"/><circle cx="309.2" cy="136.0" r="1.75"/><circle cx="340.5" cy="175.7" r="1.75"/><circle cx="281.5" cy="135.3" r="1.75"/><circle cx="286.9" cy="133.9" r="1.75"/><circle cx="307.3" cy="148.8" r="1.75"/><circle cx="252.2" cy="172.5" r="1.75"/><circle cx="324.3" cy="177.6" r="1.75"/><circle cx="315.3" cy="133.7" r="1.75"/><circle cx="256.7" cy="149.6" r="1.75"/><circle cx="286.8" cy="123.8" r="1.75"/><circle cx="297.7" cy="133.2" r="1.75"/><circle cx="339.5" cy="77.9" r="1.75"/><circle cx="329.9" cy="83.6" r="1.75"/><circle cx="255.1" cy="141.4" r="1.75"/><circle cx="273.6" cy="163.3" r="1.75"/><circle cx="332.9" cy="120.1" r="1.75"/><circle cx="251.6" cy="120.4" r="1.75"/><circle cx="296.8" cy="106.5" r="1.75"/><circle cx="340.1" cy="139.0" r="1.75"/><circle cx="307.9" cy="78.1" r="1.75"/><circle cx="284.4" cy="169.9" r="1.75"/><circle cx="338.7" cy="88.1" r="1.75"/><circle cx="264.4" cy="149.4" r="1.75"/><circle cx="253.8" cy="130.3" r="1.75"/><circle cx="331.1" cy="146.6" r="1.75"/><circle cx="303.0" cy="156.3" r="1.75"/><circle cx="329.9" cy="140.8" r="1.75"/><circle cx="278.9" cy="139.0" r="1.75"/><circle cx="295.3" cy="83.4" r="1.75"/><circle cx="262.5" cy="140.7" r="1.75"/><circle cx="310.0" cy="170.2" r="1.75"/><circle cx="253.6" cy="88.3" r="1.75"/><circle cx="335.7" cy="148.2" r="1.75"/><circle cx="275.5" cy="135.5" r="1.75"/><circle cx="300.1" cy="110.1" r="1.75"/><circle cx="282.5" cy="119.1" r="1.75"/><circle cx="251.2" cy="164.0" r="1.75"/><circle cx="303.8" cy="134.0" r="1.75"/><circle cx="341.0" cy="123.5" r="1.75"/><circle cx="298.2" cy="157.5" r="1.75"/><circle cx="342.2" cy="156.4" r="1.75"/><circle cx="289.2" cy="100.3" r="1.75"/><circle cx="286.0" cy="151.3" r="1.75"/><circle cx="289.4" cy="168.2" r="1.75"/><circle cx="269.8" cy="155.7" r="1.75"/><circle cx="333.5" cy="75.1" r="1.75"/><circle cx="321.9" cy="182.6" r="1.75"/><circle cx="281.9" cy="109.6" r="1.75"/><circle cx="321.4" cy="108.8" r="1.75"/><circle cx="318.4" cy="84.7" r="1.75"/><circle cx="304.6" cy="169.2" r="1.75"/><circle cx="329.0" cy="186.2" r="1.75"/><circle cx="317.4" cy="149.7" r="1.75"/><circle cx="277.3" cy="75.5" r="1.75"/><circle cx="264.3" cy="136.1" r="1.75"/><circle cx="321.7" cy="129.4" r="1.75"/><circle cx="293.6" cy="163.0" r="1.75"/><circle cx="332.9" cy="114.6" r="1.75"/><circle cx="315.6" cy="166.2" r="1.75"/><circle cx="299.5" cy="95.5" r="1.75"/><circle cx="322.2" cy="152.8" r="1.75"/><circle cx="300.5" cy="164.7" r="1.75"/><circle cx="275.5" cy="85.8" r="1.75"/><circle cx="273.3" cy="167.8" r="1.75"/><circle cx="281.4" cy="182.9" r="1.75"/><circle cx="315.3" cy="88.0" r="1.75"/><circle cx="320.4" cy="134.6" r="1.75"/><circle cx="281.6" cy="79.4" r="1.75"/><circle cx="283.7" cy="145.3" r="1.75"/><circle cx="302.5" cy="186.1" r="1.75"/><circle cx="277.3" cy="92.9" r="1.75"/><circle cx="320.5" cy="101.9" r="1.75"/><circle cx="279.0" cy="175.3" r="1.75"/><circle cx="312.7" cy="146.8" r="1.75"/><circle cx="263.6" cy="76.2" r="1.75"/><circle cx="342.3" cy="131.4" r="1.75"/><circle cx="265.7" cy="173.6" r="1.75"/><circle cx="333.9" cy="152.3" r="1.75"/><circle cx="328.2" cy="164.6" r="1.75"/><circle cx="267.9" cy="169.8" r="1.75"/><circle cx="288.7" cy="110.3" r="1.75"/><circle cx="274.8" cy="116.5" r="1.75"/><circle cx="300.0" cy="171.3" r="1.75"/><circle cx="331.7" cy="132.8" r="1.75"/><circle cx="319.1" cy="76.9" r="1.75"/><circle cx="340.7" cy="99.0" r="1.75"/><circle cx="271.8" cy="89.5" r="1.75"/><circle cx="251.1" cy="147.0" r="1.75"/><circle cx="289.3" cy="163.3" r="1.75"/><circle cx="328.7" cy="127.6" r="1.75"/><circle cx="258.5" cy="154.2" r="1.75"/><circle cx="330.6" cy="169.5" r="1.75"/><circle cx="326.9" cy="172.9" r="1.75"/><circle cx="265.7" cy="186.2" r="1.75"/><circle cx="337.9" cy="171.8" r="1.75"/><circle cx="267.1" cy="112.5" r="1.75"/><circle cx="260.3" cy="93.0" r="1.75"/><circle cx="292.9" cy="171.7" r="1.75"/><circle cx="263.4" cy="154.4" r="1.75"/><circle cx="306.0" cy="98.6" r="1.75"/><circle cx="299.9" cy="82.7" r="1.75"/><circle cx="334.2" cy="88.0" r="1.75"/><circle cx="256.6" cy="134.9" r="1.75"/><circle cx="277.4" cy="165.3" r="1.75"/><circle cx="317.2" cy="154.9" r="1.75"/></g>
</g>
<rect x="342.3" y="75" width="8.6" height="112" fill="#5e5e5e"/>
<rect x="119" y="75" width="8" height="112" fill="#f28c1c"/>
<g stroke="#111" fill="none"><rect x="118.2" y="74.8" width="233.1" height="112" stroke-width="1.7"/><line x1="127" y1="75" x2="127" y2="187" stroke-width="1"/><line x1="219" y1="75" x2="219" y2="187" stroke-width="1.3"/><line x1="251" y1="75" x2="251" y2="187" stroke-width="1.3"/><line x1="342.5" y1="75" x2="342.5" y2="187" stroke-width="1"/></g>
<path d="M217.3 120.4 L206 120.3 C201 120.2 197.4 119.8 194 119 C190 118 187 116 184.7 115.4 C182 114.5 180 113.9 178 114.3 C175 115 172.5 118.5 170.5 120.5 C168.5 122.5 166.5 123.5 164.8 123.5 C162 123.5 159.1 122.7 156 121.5 C152 120 148 117 144 114.5 C141.5 113 139.5 112 136 110.8" fill="none" stroke="#fff" stroke-width="5" stroke-linecap="round"/>
<path d="M123 109.2 L139.5 103 L137.5 111.3 L137.3 120.3 Z" fill="#fff"/>
<rect x="279.8" y="136.5" width="38" height="34" fill="none" stroke="#2f2e68" stroke-width="2"/>
<g stroke="#1d3466" stroke-width="2" fill="none" stroke-linecap="round"><line x1="279.8" y1="136.5" x2="129.5" y2="238.5"/><line x1="317.8" y1="170.5" x2="249.2" y2="349.3"/></g>
<g stroke="#111" stroke-width="1.6" fill="none"><line x1="450.3" y1="21" x2="450.3" y2="208"/><line x1="439.5" y1="196.7" x2="695" y2="196.7"/><line x1="446" y1="114.8" x2="450" y2="114.8"/></g>
<path d="M450.3 17 L447.9 24 L452.7 24 Z" fill="#111"/>
<path d="M699 196.7 L692.5 194.3 L692.5 199.1 Z" fill="#111"/>
<line x1="452" y1="114.8" x2="698" y2="114.8" stroke="#111" stroke-width="2" stroke-dasharray="5 3.2"/>
<text x="430.96" y="30.90" font-size="17.9" font-family="Liberation Sans, sans-serif" fill="#111" textLength="13.20" lengthAdjust="spacingAndGlyphs">φ</text>
<text x="433.25" y="119.90" font-size="17" font-family="Liberation Sans, sans-serif" fill="#111" textLength="9.19" lengthAdjust="spacingAndGlyphs">0</text>
<text x="701.16" y="218.00" font-size="18.6" font-family="Liberation Sans, sans-serif" fill="#111" textLength="6.31" lengthAdjust="spacingAndGlyphs">t</text>
<g stroke="#8a8a8a" stroke-width="1.4" stroke-dasharray="5 4" fill="none"><line x1="480" y1="187" x2="641" y2="187"/><line x1="627" y1="139.7" x2="641" y2="139.7"/></g>
<path d="M469.6 45.7 L475.6 187 L475.6 187.00 L476.6 185.50 L477.6 184.04 L478.6 182.63 L479.6 181.26 L480.6 179.94 L481.6 178.66 L482.6 177.42 L483.6 176.22 L484.6 175.06 L485.6 173.93 L486.6 172.84 L487.6 171.79 L488.6 170.76 L489.6 169.77 L490.6 168.82 L491.6 167.89 L492.6 166.99 L493.6 166.12 L494.6 165.28 L495.6 164.46 L496.6 163.68 L497.6 162.91 L498.6 162.17 L499.6 161.45 L500.6 160.76 L501.6 160.09 L502.6 159.44 L503.6 158.81 L504.6 158.20 L505.6 157.61 L506.6 157.04 L507.6 156.48 L508.6 155.95 L509.6 155.43 L510.6 154.93 L511.6 154.44 L512.6 153.97 L513.6 153.51 L514.6 153.07 L515.6 152.64 L516.6 152.23 L517.6 151.83 L518.6 151.44 L519.6 151.06 L520.6 150.70 L521.6 150.35 L522.6 150.01 L523.6 149.68 L524.6 149.36 L525.6 149.05 L526.6 148.75 L527.6 148.46 L528.6 148.18 L529.6 147.90 L530.6 147.64 L531.6 147.38 L532.6 147.14 L533.6 146.90 L534.6 146.67 L535.6 146.44 L536.6 146.23 L537.6 146.01 L538.6 145.81 L539.6 145.61 L540.6 145.42 L541.6 145.24 L542.6 145.06 L543.6 144.89 L544.6 144.72 L545.6 144.56 L546.6 144.40 L547.6 144.25 L548.6 144.10 L549.6 143.96 L550.6 143.82 L551.6 143.68 L552.6 143.55 L553.6 143.43 L554.6 143.31 L555.6 143.19 L556.6 143.08 L557.6 142.97 L558.6 142.86 L559.6 142.75 L560.6 142.65 L561.6 142.56 L562.6 142.46 L563.6 142.37 L564.6 142.28 L565.6 142.20 L566.6 142.12 L567.6 142.04 L568.6 141.96 L569.6 141.88 L570.6 141.81 L571.6 141.74 L572.6 141.67 L573.6 141.61 L574.6 141.54 L575.6 141.48 L576.6 141.42 L577.6 141.37 L578.6 141.31 L579.6 141.25 L580.6 141.20 L581.6 141.15 L582.6 141.10 L583.6 141.05 L584.6 141.01 L585.6 140.96 L586.6 140.92 L587.6 140.88 L588.6 140.84 L589.6 140.80 L590.6 140.76 L591.6 140.72 L592.6 140.69 L593.6 140.65 L594.6 140.62 L595.6 140.59 L596.6 140.56 L597.6 140.53 L598.6 140.50 L599.6 140.47 L600.6 140.44 L601.6 140.41 L602.6 140.39 L603.6 140.36 L604.6 140.34 L605.6 140.32 L606.6 140.29 L607.6 140.27 L608.6 140.25 L609.6 140.23 L610.6 140.21 L611.6 140.19 L612.6 140.17 L613.6 140.15 L614.6 140.14 L615.6 140.12 L616.6 140.10 L617.6 140.09 L618.6 140.07 L619.6 140.06 L620.6 140.04 L621.6 140.03 L622.6 140.01 L623.6 140.00 L624.6 139.99" fill="none" stroke="#1f2a8c" stroke-width="1.6" stroke-linejoin="round"/>
<path d="M482.3 45.7 C482.9 48.9 484.8 58.5 486.0 65.0 C487.2 71.5 488.4 78.7 489.5 85.0 C490.6 91.3 491.5 98.0 492.3 103.0 C493.1 108.0 493.9 111.5 494.5 114.8 C495.1 118.1 495.6 120.6 496.1 122.8 C496.7 125.0 497.2 126.6 497.8 128.0 C498.4 129.4 498.9 130.2 499.6 131.2 C500.3 132.2 501.1 133.1 502.0 133.8 C502.9 134.5 503.6 134.9 505.0 135.6 C506.4 136.3 508.3 137.2 510.5 137.8 C512.7 138.4 514.8 138.7 518.0 139.0 C521.2 139.3 512.2 139.4 530.0 139.5 C547.8 139.6 608.8 139.7 624.6 139.7 " fill="none" stroke="#2e7a2e" stroke-width="1.6"/>
<g stroke="#cc3a3e" stroke-width="1.5" fill="none"><line x1="641" y1="114.3" x2="658" y2="114.3"/><line x1="640" y1="139.9" x2="659" y2="139.9"/><line x1="640" y1="187" x2="659" y2="187"/><line x1="648.9" y1="118" x2="648.9" y2="136"/><line x1="648.9" y1="143.5" x2="648.9" y2="183.5"/></g>
<path d="M648.9 114.8 L646.6 119.8 L651.1999999999999 119.8 Z" fill="#cc3a3e"/><path d="M648.9 139.4 L646.6 134.4 L651.1999999999999 134.4 Z" fill="#cc3a3e"/><path d="M648.9 140.4 L646.6 145.4 L651.1999999999999 145.4 Z" fill="#cc3a3e"/><path d="M648.9 186.5 L646.6 181.5 L651.1999999999999 181.5 Z" fill="#cc3a3e"/>
<text x="667.97" y="126.50" font-size="12" font-family="Liberation Sans, sans-serif" fill="#b4343e" textLength="38.34" lengthAdjust="spacingAndGlyphs">Plating</text>
<text x="653.97" y="136.30" font-size="12" font-family="Liberation Sans, sans-serif" fill="#b4343e" textLength="72.48" lengthAdjust="spacingAndGlyphs">overpotential</text>
<text x="659.75" y="161.90" font-size="12" font-family="Liberation Sans, sans-serif" fill="#b4343e" textLength="60.69" lengthAdjust="spacingAndGlyphs">Nucleation</text>
<text x="653.97" y="170.90" font-size="12" font-family="Liberation Sans, sans-serif" fill="#b4343e" textLength="72.78" lengthAdjust="spacingAndGlyphs">overpotential</text>
<rect x="436.5" y="238" width="263.5" height="158" fill="#fff"/>
<g fill="none" stroke-width="2" stroke-dasharray="5.5 3.5"><path d="M436.0 248.4 C447.5 248.3 483.3 248.0 505.0 247.8 C526.7 247.6 545.4 247.0 566.0 247.2 C586.6 247.4 606.5 248.4 628.9 248.8 C651.2 249.2 688.1 249.3 700.0 249.4 " stroke="#26268a"/><path d="M436.0 270.2 C441.8 269.0 459.1 265.2 470.6 263.0 C482.1 260.8 493.5 258.8 505.0 257.0 C516.5 255.2 529.6 253.4 539.8 252.5 C550.0 251.6 557.1 251.3 566.0 251.5 C574.9 251.7 582.5 252.4 593.0 253.5 C603.5 254.6 617.0 256.2 628.9 258.0 C640.8 259.8 652.5 261.8 664.3 264.0 C676.2 266.2 694.1 270.0 700.0 271.2 " stroke="#3c2c92"/><path d="M436.0 290.0 C441.8 288.1 459.1 281.9 470.6 278.5 C482.1 275.1 493.5 271.9 505.0 269.5 C516.5 267.1 529.6 265.2 539.8 264.0 C550.0 262.8 557.1 261.8 566.0 262.0 C574.9 262.2 582.5 263.6 593.0 265.0 C603.5 266.4 617.0 268.1 628.9 270.5 C640.8 272.9 652.5 276.1 664.3 279.5 C676.2 282.9 694.1 289.1 700.0 291.0 " stroke="#9a3cb4"/><path d="M436.0 305.5 C439.8 304.2 451.3 300.4 459.0 298.0 C466.7 295.6 474.3 293.6 482.0 291.2 C489.7 288.8 497.2 285.9 505.0 283.5 C512.8 281.1 521.5 278.2 528.5 276.5 C535.5 274.8 540.8 273.8 547.0 273.0 C553.2 272.2 559.6 271.3 566.0 271.5 C572.4 271.7 579.1 273.0 585.6 274.0 C592.0 275.0 597.4 275.8 604.7 277.5 C611.9 279.2 620.9 282.1 628.9 284.5 C636.9 286.9 644.7 289.8 652.6 292.2 C660.5 294.6 668.4 296.6 676.3 299.0 C684.2 301.4 696.0 305.2 700.0 306.5 " stroke="#b842bc"/><path d="M436.0 320.0 C439.8 318.4 451.3 313.5 459.0 310.5 C466.7 307.5 474.3 304.7 482.0 302.0 C489.7 299.3 497.2 297.2 505.0 294.5 C512.8 291.8 521.5 288.2 528.5 286.0 C535.5 283.8 540.8 282.2 547.0 281.0 C553.2 279.8 559.6 278.3 566.0 278.5 C572.4 278.7 579.1 280.6 585.6 282.0 C592.0 283.4 597.4 284.8 604.7 287.0 C611.9 289.2 620.9 292.8 628.9 295.5 C636.9 298.2 644.7 300.3 652.6 303.0 C660.5 305.7 668.4 308.5 676.3 311.5 C684.2 314.5 696.0 319.4 700.0 321.0 " stroke="#c244b2"/><path d="M436.0 335.5 C439.8 334.1 451.3 329.9 459.0 327.0 C466.7 324.1 474.3 321.1 482.0 318.0 C489.7 314.9 497.2 312.2 505.0 308.5 C512.8 304.8 521.5 299.1 528.5 296.0 C535.5 292.9 540.8 291.7 547.0 290.0 C553.2 288.3 559.6 285.4 566.0 285.6 C572.4 285.8 579.1 289.1 585.6 291.0 C592.0 292.9 597.4 293.9 604.7 297.0 C611.9 300.1 620.9 305.8 628.9 309.5 C636.9 313.2 644.7 315.9 652.6 319.0 C660.5 322.1 668.4 325.1 676.3 328.0 C684.2 330.9 696.0 335.1 700.0 336.5 " stroke="#c03c8a"/><path d="M436.0 351.5 C439.8 350.1 451.3 346.1 459.0 343.0 C466.7 339.9 474.3 336.7 482.0 333.0 C489.7 329.3 497.2 325.7 505.0 321.0 C512.8 316.3 521.5 309.0 528.5 305.0 C535.5 301.0 540.8 299.4 547.0 297.0 C553.2 294.6 559.6 290.6 566.0 290.8 C572.4 291.0 579.1 295.5 585.6 298.0 C592.0 300.5 597.4 302.0 604.7 306.0 C611.9 310.0 620.9 317.3 628.9 322.0 C636.9 326.7 644.7 330.3 652.6 334.0 C660.5 337.7 668.4 340.9 676.3 344.0 C684.2 347.1 696.0 351.1 700.0 352.5 " stroke="#ba3452"/><path d="M436.0 365.5 C439.8 364.2 451.3 360.8 459.0 358.0 C466.7 355.2 474.3 352.8 482.0 349.0 C489.7 345.2 497.2 340.5 505.0 335.0 C512.8 329.5 521.5 321.2 528.5 316.0 C535.5 310.8 540.8 307.0 547.0 303.5 C553.2 300.0 559.6 294.6 566.0 294.8 C572.4 295.0 579.1 300.8 585.6 304.5 C592.0 308.2 597.4 311.8 604.7 317.0 C611.9 322.2 620.9 330.5 628.9 336.0 C636.9 341.5 644.7 346.2 652.6 350.0 C660.5 353.8 668.4 356.2 676.3 359.0 C684.2 361.8 696.0 365.2 700.0 366.5 " stroke="#b22e3a"/><path d="M436.0 379.0 C439.8 377.8 451.3 374.8 459.0 372.0 C466.7 369.2 474.3 366.2 482.0 362.0 C489.7 357.8 497.2 352.4 505.0 346.6 C512.8 340.8 521.5 332.8 528.5 327.0 C535.5 321.2 542.1 315.8 547.0 312.0 C551.9 308.2 554.8 306.2 558.0 304.0 C561.2 301.8 563.3 298.7 566.0 298.9 C568.7 299.1 571.0 302.6 574.2 305.0 C577.5 307.4 580.5 309.2 585.6 313.0 C590.7 316.8 597.4 322.2 604.7 328.0 C611.9 333.8 620.9 341.8 628.9 347.6 C636.9 353.4 644.7 358.8 652.6 363.0 C660.5 367.2 668.4 370.2 676.3 373.0 C684.2 375.8 696.0 378.8 700.0 380.0 " stroke="#a82a2c"/></g>
<g fill="none" stroke="#a3a3a3" stroke-width="1.3"><path d="M453.0 238.0 C453.2 245.0 453.5 265.8 454.0 280.0 C454.5 294.2 455.1 310.1 456.0 323.0 C456.9 335.9 458.3 348.9 459.6 357.7 C460.9 366.5 462.2 370.9 464.0 376.0 C465.8 381.1 469.4 386.0 470.5 388.0 "/><path d="M682.4 238.0 C682.2 245.0 681.9 265.8 681.4 280.0 C680.8 294.2 680.3 310.1 679.3 323.0 C678.3 335.9 677.0 348.9 675.6 357.7 C674.2 366.5 672.7 371.1 671.1 376.0 C669.4 380.9 666.4 385.2 665.5 387.0 "/><path d="M469.0 238.0 C469.1 244.2 469.0 263.2 469.5 275.0 C470.0 286.8 469.8 297.5 472.0 309.0 C474.2 320.5 477.7 333.6 482.7 344.0 C487.7 354.4 495.6 365.8 501.8 371.5 C508.0 377.2 513.3 377.1 520.0 378.5 C526.7 379.9 538.2 379.9 541.8 380.2 "/><path d="M665.9 238.0 C665.8 244.2 665.9 263.2 665.4 275.0 C664.9 286.8 665.1 297.5 662.8 309.0 C660.6 320.5 656.9 333.6 651.8 344.0 C646.7 354.4 638.5 365.8 632.1 371.5 C625.7 377.2 619.7 377.0 613.4 378.5 C607.1 380.0 597.4 380.2 594.2 380.5 "/><path d="M485.0 238.0 C485.2 244.2 485.1 263.2 486.0 275.0 C486.9 286.8 488.4 299.3 490.7 309.0 C493.0 318.7 495.8 327.5 500.0 333.4 C504.2 339.3 511.0 341.1 516.2 344.5 C521.4 347.9 525.9 351.7 531.0 354.0 C536.1 356.3 544.0 357.8 546.6 358.5 "/><path d="M649.4 238.0 C649.3 244.2 649.4 263.2 648.4 275.0 C647.4 286.8 646.0 299.3 643.6 309.0 C641.2 318.7 638.4 327.5 634.0 333.4 C629.6 339.3 622.6 341.1 617.3 344.5 C612.0 347.9 606.8 351.9 602.0 354.0 C597.3 356.1 591.1 356.8 588.9 357.4 "/><path d="M503.0 238.0 C503.2 243.3 502.9 258.9 504.0 270.0 C505.1 281.1 507.1 295.4 509.7 304.3 C512.3 313.2 515.6 318.3 519.4 323.7 C523.2 329.1 527.4 333.1 532.3 336.6 C537.1 340.1 545.8 343.4 548.5 344.7 "/><path d="M630.9 238.0 C630.7 243.3 631.0 258.9 629.9 270.0 C628.7 281.1 626.6 295.4 624.0 304.3 C621.3 313.2 617.9 318.3 614.0 323.7 C610.1 329.1 605.5 333.1 600.7 336.6 C595.9 340.1 588.0 343.4 585.4 344.7 "/><path d="M520.0 238.0 C520.2 243.3 520.5 260.3 521.5 270.0 C522.5 279.7 523.8 289.4 525.9 296.2 C528.0 303.0 531.3 306.7 534.0 310.7 C536.7 314.7 539.3 316.9 542.0 320.4 C544.7 323.9 548.8 329.9 550.1 331.8 "/><path d="M613.4 238.0 C613.1 243.3 612.8 260.3 611.8 270.0 C610.8 279.7 609.4 289.4 607.3 296.2 C605.2 303.0 601.7 306.7 599.0 310.7 C596.2 314.7 593.4 317.2 590.7 320.4 C588.1 323.6 584.4 328.1 583.1 329.7 "/><path d="M535.0 238.0 C535.5 243.3 536.8 260.3 538.0 270.0 C539.2 279.7 540.5 289.9 542.0 296.2 C543.5 302.4 545.1 303.7 546.9 307.5 C548.7 311.3 551.6 316.9 552.6 318.8 "/><path d="M597.9 238.0 C597.4 243.3 596.0 260.3 594.8 270.0 C593.6 279.7 592.2 289.9 590.7 296.2 C589.2 302.4 587.5 303.6 585.7 307.5 C583.8 311.4 580.7 317.3 579.7 319.3 "/><path d="M551.0 238.0 C551.3 243.3 552.3 260.3 553.0 270.0 C553.7 279.7 554.3 289.4 555.0 296.2 C555.7 303.0 557.0 308.3 557.4 310.7 "/><path d="M581.5 238.0 C581.1 243.3 580.1 260.3 579.4 270.0 C578.7 279.7 577.9 289.9 577.3 296.2 C576.7 302.5 576.0 305.8 575.7 307.7 "/><path d="M566 238 L566 300"/></g>
<g fill="#a3a3a3"><path d="M470.5 388.0 L465.8 384.3 L470.0 382.0 Z"/><path d="M665.5 387.0 L665.8 381.0 L670.1 383.2 Z"/><path d="M541.8 380.2 L536.1 382.2 L536.5 377.4 Z"/><path d="M594.2 380.5 L599.4 377.5 L599.9 382.3 Z"/><path d="M546.6 358.5 L540.7 359.3 L542.0 354.7 Z"/><path d="M588.9 357.4 L593.6 353.7 L594.8 358.3 Z"/><path d="M548.5 344.7 L542.5 344.4 L544.7 340.1 Z"/><path d="M585.4 344.7 L589.1 340.0 L591.4 344.2 Z"/><path d="M550.1 331.8 L545.0 328.7 L548.9 325.9 Z"/><path d="M583.1 329.7 L584.7 323.9 L588.4 327.0 Z"/><path d="M552.6 318.8 L548.0 315.0 L552.3 312.8 Z"/><path d="M579.7 319.3 L580.0 313.3 L584.3 315.5 Z"/><path d="M557.4 310.7 L554.1 305.7 L558.9 304.9 Z"/><path d="M575.7 307.7 L574.1 301.9 L578.8 302.6 Z"/><path d="M566.0 301.0 L563.6 295.5 L568.4 295.5 Z"/></g>
<path d="M436.5 389 L542.5 389 L550.8 340 C552 333 554.5 318 558 310.6 C561 304 564 301.8 566.3 301.8 C569 301.8 572 305 574.6 310.6 C577.5 318 580 331 583.4 340 L595.2 389 L700 389 L700 396 L436.5 396 Z" fill="#0dc40d"/>
<g><circle cx="566.2" cy="305.4" r="3.35" fill="#fffbe8" stroke="#a67a3a" stroke-width="1"/><rect x="564.0" y="304.6" width="4.4" height="1.5" fill="#111"/><circle cx="561.1" cy="312.2" r="3.35" fill="#fffbe8" stroke="#a67a3a" stroke-width="1"/><rect x="558.9" y="311.4" width="4.4" height="1.5" fill="#111"/><circle cx="571" cy="312.2" r="3.35" fill="#fffbe8" stroke="#a67a3a" stroke-width="1"/><rect x="568.8" y="311.4" width="4.4" height="1.5" fill="#111"/><circle cx="558.3" cy="321.5" r="3.35" fill="#fffbe8" stroke="#a67a3a" stroke-width="1"/><rect x="556.1" y="320.8" width="4.4" height="1.5" fill="#111"/><circle cx="573.9" cy="321.5" r="3.35" fill="#fffbe8" stroke="#a67a3a" stroke-width="1"/><rect x="571.7" y="320.8" width="4.4" height="1.5" fill="#111"/><circle cx="557" cy="331.9" r="3.35" fill="#fffbe8" stroke="#a67a3a" stroke-width="1"/><rect x="554.8" y="331.1" width="4.4" height="1.5" fill="#111"/><circle cx="577.2" cy="331.9" r="3.35" fill="#fffbe8" stroke="#a67a3a" stroke-width="1"/><rect x="575.0" y="331.1" width="4.4" height="1.5" fill="#111"/><circle cx="554.7" cy="345.1" r="3.35" fill="#fffbe8" stroke="#a67a3a" stroke-width="1"/><rect x="552.5" y="344.4" width="4.4" height="1.5" fill="#111"/><circle cx="579.2" cy="345.1" r="3.35" fill="#fffbe8" stroke="#a67a3a" stroke-width="1"/><rect x="577.0" y="344.4" width="4.4" height="1.5" fill="#111"/><circle cx="551.9" cy="359.8" r="3.35" fill="#fffbe8" stroke="#a67a3a" stroke-width="1"/><rect x="549.7" y="359.1" width="4.4" height="1.5" fill="#111"/><circle cx="582" cy="359.8" r="3.35" fill="#fffbe8" stroke="#a67a3a" stroke-width="1"/><rect x="579.8" y="359.1" width="4.4" height="1.5" fill="#111"/><circle cx="547.8" cy="380.9" r="3.35" fill="#fffbe8" stroke="#a67a3a" stroke-width="1"/><rect x="545.6" y="380.1" width="4.4" height="1.5" fill="#111"/><circle cx="588" cy="380.9" r="3.35" fill="#fffbe8" stroke="#a67a3a" stroke-width="1"/><rect x="585.8" y="380.1" width="4.4" height="1.5" fill="#111"/><circle cx="476" cy="392.2" r="3.35" fill="#fffbe8" stroke="#a67a3a" stroke-width="1"/><rect x="473.8" y="391.4" width="4.4" height="1.5" fill="#111"/><circle cx="662.4" cy="391.8" r="3.35" fill="#fffbe8" stroke="#a67a3a" stroke-width="1"/><rect x="660.2" y="391.1" width="4.4" height="1.5" fill="#111"/></g>
<rect x="436.2" y="237.6" width="264" height="158.6" fill="none" stroke="#111" stroke-width="1.7"/>
</svg></body></html>
